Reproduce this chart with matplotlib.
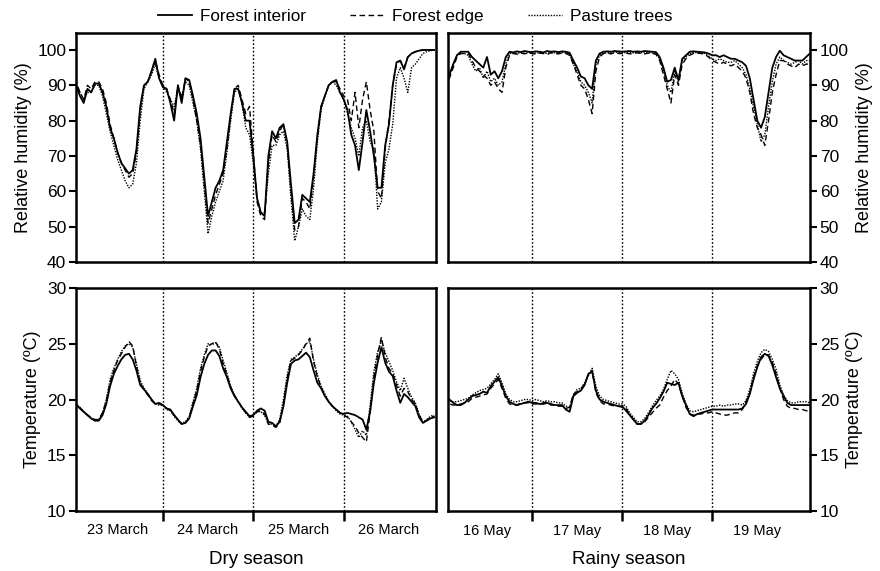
import numpy as np
import matplotlib
matplotlib.use("Agg")
import matplotlib.pyplot as plt
from matplotlib.lines import Line2D

plt.rcParams['font.family'] = ['Liberation Sans', 'DejaVu Sans']

# ---------------- data (hourly readings) ----------------
dry_days = ["23 March", "24 March", "25 March", "26 March"]
rainy_days = ["16 May", "17 May", "18 May", "19 May"]
series_names = ["Forest interior", "Forest edge", "Pasture trees"]

dry_rh_interior = [90, 90, 87, 85, 89, 88, 90.5, 90.5, 88, 84, 78, 75, 71, 68, 66.5, 65, 66, 72, 84, 90, 91, 94, 97.5, 92, 89.5,
                   89, 85, 80, 90, 85, 92, 91.5, 87, 82, 75, 64, 53, 57, 61, 63, 66, 74, 82, 89, 89, 85, 80, 80, 70,
                   58, 54, 53, 70, 77, 75, 78, 79, 74, 62, 51, 52, 59, 58, 57, 65, 76, 84, 87, 90, 91, 91.5, 88, 86,
                   83, 76, 73, 66, 74, 83, 77, 70, 61, 61, 73, 79, 90, 96.5, 97, 94.5, 98, 99, 99.5, 99.8, 100, 100, 100, 100]
dry_rh_edge = [91, 91, 88, 86, 90, 89, 91, 91, 89, 85, 79, 75, 71, 68, 66, 64, 65, 71, 83, 90, 91, 94, 97, 93, 90,
               89, 86, 82, 90, 86, 92, 91, 86, 80, 73, 62, 51, 55, 59, 62, 65, 72, 81, 89, 90, 86, 82, 84, 71,
               57, 53, 52, 68, 76, 74, 77, 79, 73, 60, 49, 50, 58, 57, 55, 64, 75, 84, 87, 90, 91, 91, 89, 87,
               86, 80, 88, 78, 86, 91, 83, 77, 60, 58, 72, 80, 90, 96, 97, 95, 98, 99, 99.5, 99.8, 100, 100, 100, 100]
dry_rh_pasture = [90, 90, 88, 86, 88, 88, 90, 90, 87, 82, 77, 73, 69, 66, 63, 61, 62, 68, 80, 89, 91, 93, 96, 92, 90,
                  88, 86, 84, 89, 87, 91, 90, 85, 80, 72, 60, 48, 53, 57, 60, 63, 71, 80, 88, 89, 85, 78, 76, 68,
                  58, 54, 54, 65, 73, 73, 76, 77, 72, 58, 46, 50, 55, 53, 52, 61, 74, 83, 87, 90, 91, 90, 88, 86,
                  82, 78, 75, 70, 78, 80, 74, 72, 55, 57, 68, 72, 79, 92, 95, 92, 88, 95, 96, 97.5, 99, 99.5, 99.8, 100]

rainy_rh_interior = [91, 92, 93, 96, 98.5, 99.5, 99.5, 99.5, 98, 97, 96, 95, 98, 93, 94, 92, 94, 98, 99.5, 99.3, 99.6, 99.4, 99.7, 99.5, 99.4,
                     99.6, 99.5, 99.3, 99.7, 99.5, 99.6, 99.4, 99.6, 99.5, 99.2, 97, 95, 92.5, 92, 90, 89, 97, 99, 99.5, 99.6, 99.5, 99.7, 99.6, 99.5,
                     99.6, 99.7, 99.5, 99.6, 99.5, 99.7, 99.6, 99.5, 99.4, 98, 95, 91, 91.5, 95, 91.5, 97.5, 98.5, 99.5, 99.6, 99.5, 99.4, 99.3, 99, 98.5,
                     98.5, 98, 98.5, 98, 97.5, 97.5, 97, 96.5, 95.5, 92, 86, 80, 78, 81, 88, 95, 98, 99.8, 98.5, 98, 97.5, 97, 97, 97, 98, 99]
rainy_rh_edge = [90, 91, 92, 95, 98, 99, 99, 99, 97, 95, 94, 93, 92, 90, 91, 89, 88, 95, 98.5, 99, 98.8, 99.1, 98.9, 99.2, 99,
                 98.8, 99.1, 99, 98.7, 99.2, 99, 98.9, 99.1, 99, 98.5, 96, 93, 90, 89, 86, 82, 94, 98, 99, 99.1, 98.9, 99.2, 99, 99,
                 99.1, 98.9, 99, 99.2, 99, 98.9, 99.1, 99, 98.8, 97, 93, 89, 85, 93, 90, 96, 97.5, 98.5, 99, 99.1, 99, 98.8, 98, 97,
                 96.5, 96, 96.5, 96, 95.5, 96, 95, 94, 92, 88, 82, 78, 76, 73, 80, 88, 93, 97, 97, 96, 95.5, 95, 96, 95.5, 96, 96]
rainy_rh_pasture = [91, 92, 93, 96, 98.5, 99, 99, 98.5, 96, 94, 95, 92, 94, 91, 92, 90, 91, 96, 99, 99.2, 99, 99.3, 99.1, 99.2, 99.3,
                    99.1, 99.3, 99.2, 99, 99.3, 99.2, 99.1, 99.3, 99.2, 98.8, 96, 94, 91, 90, 88, 85, 96, 98.5, 99, 99.3, 99.2, 99.4, 99.3, 99.2,
                    99.3, 99.4, 99.2, 99.3, 99.2, 99.4, 99.3, 99.2, 99, 97.5, 94, 90, 88, 94, 91, 97, 98, 99, 99.3, 99.2, 99.1, 99, 98.3, 97.5,
                    97, 97.5, 97, 96.5, 96.5, 97, 96, 95, 93, 89, 84, 79, 74, 76, 84, 91, 96, 98, 97, 96.5, 96, 96.5, 97, 96, 97, 97]

dry_t_interior = [19.8, 19.6, 19.2, 18.9, 18.6, 18.3, 18.1, 18.1, 18.6, 19.6, 21.2, 22.3, 23.0, 23.6, 24.0, 24.1, 23.6, 22.6, 21.3, 20.9, 20.5, 20.0, 19.6, 19.7, 19.5,
                  19.2, 19.1, 18.6, 18.2, 17.8, 17.9, 18.3, 19.4, 20.4, 22.0, 23.2, 24.0, 24.4, 24.4, 23.9, 22.8, 22.0, 21.0, 20.3, 19.8, 19.3, 18.9, 18.5, 18.6,
                  19.0, 19.2, 19.0, 18.0, 17.9, 17.6, 18.0, 19.4, 21.5, 23.2, 23.5, 23.6, 23.9, 24.2, 23.8, 22.6, 21.5, 21.0, 20.3, 19.8, 19.4, 19.1, 18.8, 18.7,
                  18.8, 18.7, 18.6, 18.4, 18.2, 17.3, 18.9, 21.5, 23.3, 24.7, 23.3, 22.5, 22.1, 20.8, 19.7, 20.5, 20.2, 19.8, 19.4, 18.4, 17.9, 18.1, 18.3, 18.4]
dry_t_edge = [19.8, 19.6, 19.3, 18.9, 18.6, 18.4, 18.2, 18.2, 18.8, 19.9, 21.5, 22.6, 23.5, 24.1, 24.7, 25.2, 24.8, 23.0, 21.5, 20.9, 20.4, 19.9, 19.6, 19.6, 19.5,
              19.2, 19.0, 18.6, 18.1, 17.8, 17.9, 18.4, 19.6, 20.8, 22.5, 23.8, 24.8, 25.0, 25.2, 24.5, 23.2, 22.2, 21.1, 20.4, 19.8, 19.3, 18.8, 18.4, 18.5,
              18.9, 19.0, 18.7, 17.8, 17.7, 17.5, 17.9, 19.6, 21.9, 23.5, 23.7, 24.0, 24.4, 25.0, 25.5, 23.4, 22.0, 21.1, 20.4, 19.8, 19.4, 19.1, 18.8, 18.6,
              18.4, 18.0, 17.6, 17.0, 16.6, 16.2, 18.8, 22.0, 24.0, 25.6, 23.8, 22.8, 22.3, 21.3, 20.3, 21.0, 20.7, 20.0, 19.6, 18.6, 18.0, 18.1, 18.4, 18.5]
dry_t_pasture = [19.7, 19.5, 19.2, 18.9, 18.6, 18.3, 18.1, 18.2, 18.8, 20.0, 21.8, 22.8, 23.6, 24.3, 24.8, 25.0, 24.7, 23.2, 21.7, 21.0, 20.5, 20.0, 19.6, 19.5, 19.5,
                 19.1, 19.0, 18.5, 18.1, 17.9, 18.0, 18.5, 19.8, 21.0, 22.8, 24.0, 25.0, 24.9, 25.1, 24.7, 23.5, 22.4, 21.2, 20.4, 19.8, 19.2, 18.8, 18.4, 18.6,
                 18.9, 18.9, 18.6, 17.8, 17.8, 17.6, 18.2, 20.0, 22.2, 23.6, 23.8, 24.1, 24.5, 25.0, 25.2, 23.6, 22.2, 21.2, 20.5, 19.8, 19.4, 19.0, 18.7, 18.6,
                 18.5, 18.0, 17.3, 16.6, 17.2, 16.8, 19.5, 22.5, 24.3, 25.3, 24.2, 23.4, 22.6, 21.6, 20.8, 21.9, 21.0, 20.2, 19.7, 18.7, 18.0, 18.2, 18.5, 18.6]

rainy_t_interior = [20.4, 20.3, 20.0, 19.7, 19.5, 19.5, 19.7, 20.0, 20.3, 20.4, 20.5, 20.7, 20.6, 21.2, 21.6, 22.0, 21.2, 20.3, 19.8, 19.6, 19.5, 19.6, 19.7, 19.8, 19.7,
                    19.7, 19.6, 19.6, 19.7, 19.6, 19.5, 19.5, 19.5, 19.1, 18.9, 20.3, 20.6, 20.8, 21.3, 22.3, 22.5, 20.8, 20.0, 19.8, 19.7, 19.6, 19.5, 19.4, 19.4,
                    19.0, 18.6, 18.2, 17.8, 17.8, 18.1, 18.6, 19.2, 19.6, 20.1, 20.7, 21.5, 21.4, 21.3, 21.5, 20.3, 19.5, 18.7, 18.5, 18.7, 18.8, 18.9, 19.0, 19.1,
                    19.1, 19.1, 19.1, 19.1, 19.1, 19.1, 19.1, 19.2, 19.6, 20.5, 21.8, 22.9, 23.8, 24.1, 23.9, 23.1, 22.0, 21.0, 20.3, 19.7, 19.5, 19.5, 19.5, 19.5, 19.5, 19.5]
rainy_t_edge = [19.9, 19.8, 19.6, 19.5, 19.5, 19.6, 19.7, 19.8, 20.1, 20.2, 20.3, 20.4, 20.5, 21.0, 21.4, 21.8, 21.0, 20.1, 19.6, 19.5, 19.5, 19.7, 19.7, 19.7, 19.6,
                19.6, 19.6, 19.7, 19.8, 19.5, 19.5, 19.4, 19.4, 19.2, 19.3, 20.5, 20.7, 20.9, 21.4, 22.2, 22.6, 20.6, 19.9, 19.6, 19.6, 19.5, 19.4, 19.4, 19.3,
                19.2, 18.7, 18.2, 17.8, 17.8, 18.0, 18.4, 18.8, 19.2, 19.5, 20.2, 20.8, 21.2, 21.8, 21.4, 20.3, 19.3, 18.7, 18.6, 18.7, 18.7, 18.8, 18.8, 18.9,
                18.8, 18.7, 18.6, 18.6, 18.7, 18.8, 18.8, 19.1, 19.8, 20.6, 22.0, 23.0, 23.6, 24.0, 24.0, 23.3, 22.3, 21.0, 20.0, 19.4, 19.2, 19.2, 19.1, 19.1, 19.0, 18.9]
rainy_t_pasture = [20.2, 20.1, 19.9, 19.8, 19.8, 19.9, 20.0, 20.1, 20.4, 20.6, 20.8, 20.9, 21.0, 21.4, 21.8, 22.3, 21.5, 20.5, 20.0, 19.8, 19.8, 19.9, 20.0, 20.0, 19.9,
                   20.0, 19.9, 19.8, 19.9, 19.8, 19.8, 19.7, 19.7, 19.4, 19.3, 20.4, 20.9, 21.0, 21.5, 22.1, 22.8, 21.2, 20.3, 20.0, 19.9, 19.8, 19.7, 19.6, 19.6,
                   19.4, 18.8, 18.4, 18.0, 18.0, 18.3, 18.8, 19.4, 19.9, 20.3, 20.9, 21.8, 22.6, 22.3, 21.8, 20.6, 19.6, 19.0, 18.9, 19.0, 19.1, 19.2, 19.3, 19.4,
                   19.4, 19.5, 19.4, 19.5, 19.5, 19.6, 19.6, 19.5, 19.9, 20.9, 22.3, 23.4, 24.2, 24.5, 24.3, 23.6, 22.7, 21.3, 20.4, 19.9, 19.7, 19.7, 19.8, 19.8, 19.8, 19.7]

rh_ticks = [40, 50, 60, 70, 80, 90, 100]
t_ticks = [10, 15, 20, 25, 30]

# ---------------- figure ----------------
fig = plt.figure(figsize=(8.8, 5.71), dpi=100)
W, H = 880, 571


def box(l, r, t, b):
    return [l / W, 1 - b / H, (r - l) / W, (b - t) / H]


ax_tl = fig.add_axes(box(76, 436, 33, 262))
ax_tr = fig.add_axes(box(448, 810, 33, 262))
ax_bl = fig.add_axes(box(76, 436, 288, 511))
ax_br = fig.add_axes(box(448, 810, 288, 511))

styles = [dict(ls='-', lw=1.3), dict(ls=(0, (4, 2.5)), lw=1.0), dict(ls=(0, (1, 1)), lw=1.0)]


def draw(ax, series, xlim, ylim, yticks, ylabel, right, bottom, days):
    for vals, st in zip(series, styles):
        x = np.arange(len(vals)) / 24.0
        ax.plot(x, vals, color='black', **st)
    for d in (1, 2, 3):
        ax.axvline(d, color='black', lw=1.0, ls=(0, (1.2, 1.5)), zorder=0.5)
    ax.set_xlim(*xlim)
    ax.set_ylim(*ylim)
    for s in ax.spines.values():
        s.set_linewidth(1.8)
    ax.set_yticks(yticks)
    ax.tick_params(axis='y', direction='out', length=5, width=1.5, labelsize=12.5, pad=2)
    if right:
        ax.yaxis.tick_right()
        ax.yaxis.set_label_position('right')
        ax.set_ylabel(ylabel, fontsize=13, labelpad=5)
    else:
        ax.set_ylabel(ylabel, fontsize=13, labelpad=4)
    if bottom:
        ax.set_xticks([1, 2, 3])
        ax.set_xticklabels([])
        ax.tick_params(axis='x', which='major', direction='out', length=7, width=1.8)
        ax.set_xticks([0.5, 1.5, 2.5, 3.5], minor=True)
        ax.set_xticklabels(days, minor=True, fontsize=10.5,
                           family=['Liberation Sans Narrow', 'Liberation Sans'])
        ax.tick_params(axis='x', which='minor', length=0, pad=9)
    else:
        ax.set_xticks([])


draw(ax_tl, [dry_rh_interior, dry_rh_edge, dry_rh_pasture], (0.04, 4.02), (40, 104.8),
     rh_ticks, 'Relative humidity (%)', False, False, None)
draw(ax_tr, [rainy_rh_interior, rainy_rh_edge, rainy_rh_pasture], (0.067, 4.085), (40, 104.8),
     rh_ticks, 'Relative humidity (%)', True, False, None)
draw(ax_bl, [dry_t_interior, dry_t_edge, dry_t_pasture], (0.04, 4.02), (10, 30),
     t_ticks, 'Temperature (ºC)', False, True, dry_days)
draw(ax_br, [rainy_t_interior, rainy_t_edge, rainy_t_pasture], (0.067, 4.085), (10, 30),
     t_ticks, 'Temperature (ºC)', True, True, rainy_days)

ax_bl.set_xlabel('Dry season', fontsize=13.5, labelpad=10)
ax_br.set_xlabel('Rainy season', fontsize=13.5, labelpad=10)

handles = [Line2D([], [], color='black', **st) for st in styles]
fig.legend(handles, series_names, loc='upper center', bbox_to_anchor=(0.472, 1.012), ncol=3,
           frameon=False, fontsize=12.3, handlelength=2.0, columnspacing=2.6, handletextpad=0.45)

fig.savefig('out.png', dpi=100)
